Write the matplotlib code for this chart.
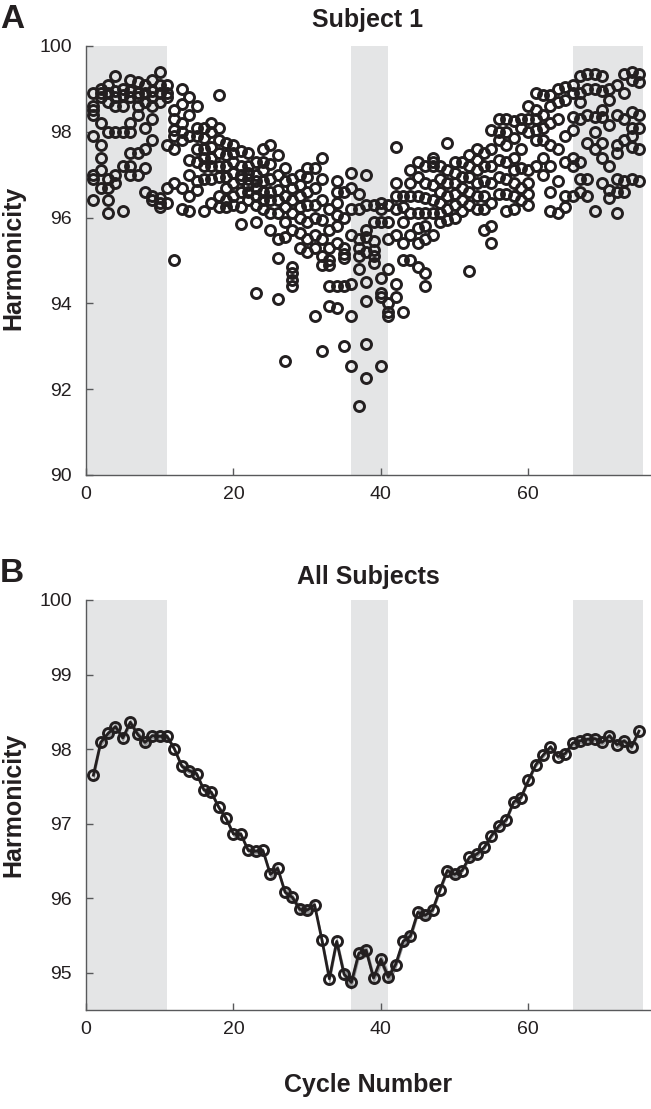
#!/usr/bin/env python3
# -*- coding: utf-8 -*-

import numpy as np
import matplotlib
matplotlib.use("Agg")
import matplotlib.pyplot as plt

plt.rcParams['font.family'] = ['Liberation Sans', 'DejaVu Sans']

############
### Data ###
############

cycles = list(range(1, 76))

# shaded blocks of cycles (start, end)
shade_blocks = [(0, 11), (36, 41), (66, 75.6)]

# Subject 1: harmonicity values per cycle (one row per cycle)
subject1 = [
    [98.9, 98.6, 98.5, 98.4, 97.9, 97.0, 96.9, 96.4],
    [99.0, 98.9, 98.8, 98.2, 97.7, 97.4, 97.1, 96.7],
    [99.1, 98.9, 98.7, 98.0, 96.9, 96.7, 96.4, 96.1],
    [99.3, 98.95, 98.8, 98.6, 98.0, 97.0, 96.8],
    [99.0, 98.85, 98.6, 98.0, 97.2, 96.15],
    [99.2, 98.95, 98.8, 98.2, 98.0, 97.5, 97.2, 97.0],
    [99.15, 98.9, 98.8, 98.6, 98.4, 97.5, 97.0],
    [99.1, 98.9, 98.7, 98.1, 97.6, 97.15, 96.6],
    [99.2, 98.95, 98.8, 98.6, 98.3, 97.8, 96.5, 96.4],
    [99.4, 99.1, 98.9, 98.7, 96.45, 96.35, 96.25],
    [99.1, 98.9, 98.8, 97.7, 96.7, 96.35],
    [98.5, 98.3, 98.05, 97.9, 97.6, 96.8, 95.0],
    [99.0, 98.65, 98.2, 98.0, 97.8, 96.7, 96.2],
    [98.8, 98.4, 97.9, 97.35, 97.0, 96.5, 96.15],
    [98.6, 98.1, 97.9, 97.6, 97.3, 96.85, 96.65],
    [98.1, 97.85, 97.6, 97.4, 97.2, 96.9, 96.15],
    [98.2, 98.0, 97.65, 97.4, 97.2, 96.9, 96.35],
    [98.85, 98.1, 97.8, 97.5, 97.2, 96.95, 96.5, 96.25],
    [97.75, 97.45, 97.2, 96.95, 96.7, 96.4, 96.25],
    [97.7, 97.5, 97.3, 97.05, 96.8, 96.5, 96.3],
    [97.55, 97.2, 97.0, 96.9, 96.6, 96.25, 95.85],
    [97.5, 97.2, 97.05, 96.9, 96.75, 96.6, 96.4],
    [97.3, 97.0, 96.85, 96.7, 96.5, 96.3, 95.9, 94.25],
    [97.6, 97.3, 97.1, 96.85, 96.6, 96.4, 96.2],
    [97.7, 97.25, 96.9, 96.6, 96.4, 96.1, 95.7],
    [97.45, 97.0, 96.65, 96.4, 96.1, 95.5, 95.05, 94.1],
    [97.15, 96.85, 96.5, 96.25, 95.9, 95.55, 92.65],
    [96.9, 96.7, 96.4, 96.1, 95.7, 94.85, 94.7, 94.55, 94.4],
    [97.0, 96.75, 96.5, 96.25, 96.0, 95.65, 95.3],
    [97.15, 96.95, 96.6, 96.3, 95.9, 95.5, 95.2],
    [97.15, 96.7, 96.3, 96.0, 95.6, 95.3, 93.7],
    [97.4, 96.9, 96.4, 95.95, 95.5, 95.1, 94.9, 92.9],
    [96.2, 95.7, 95.3, 95.0, 94.9, 94.4, 93.95],
    [96.85, 96.6, 96.35, 96.05, 95.8, 95.4, 94.4, 93.9],
    [96.6, 96.0, 95.3, 95.15, 95.05, 94.4, 93.0],
    [97.05, 96.7, 96.2, 95.6, 94.45, 93.7, 92.55],
    [96.55, 96.2, 95.5, 95.3, 95.1, 94.8, 91.6],
    [97.0, 96.3, 95.7, 95.55, 95.2, 94.5, 94.05, 93.05, 92.25],
    [96.3, 95.9, 95.45, 95.25, 95.1, 94.95],
    [96.35, 96.2, 95.9, 94.6, 94.25, 94.15, 92.55],
    [96.3, 95.9, 95.5, 94.8, 94.0, 93.8, 93.7],
    [97.65, 96.8, 96.5, 96.2, 95.6, 94.45, 94.15],
    [96.5, 96.25, 95.9, 95.4, 95.0, 93.8],
    [97.1, 96.8, 96.5, 96.1, 95.6, 95.0],
    [97.3, 96.95, 96.5, 96.1, 95.75, 95.4, 94.85],
    [97.2, 96.8, 96.45, 96.1, 95.8, 95.5, 94.7, 94.4],
    [97.4, 97.3, 97.2, 96.75, 96.4, 96.1, 95.6],
    [97.2, 96.9, 96.6, 96.35, 96.1, 95.9],
    [97.75, 97.1, 96.8, 96.5, 96.2, 95.95],
    [97.3, 97.05, 96.8, 96.55, 96.3, 96.0],
    [97.3, 96.95, 96.7, 96.4, 96.15],
    [97.45, 97.2, 96.95, 96.6, 96.3, 94.75],
    [97.6, 97.35, 97.1, 96.8, 96.5, 96.2],
    [97.5, 97.2, 96.85, 96.5, 96.2, 95.7],
    [98.05, 97.6, 97.2, 96.8, 96.35, 95.8, 95.4],
    [98.3, 98.0, 97.8, 97.35, 96.95, 96.55],
    [98.3, 98.0, 97.7, 97.3, 96.9, 96.55, 96.15],
    [98.25, 97.85, 97.4, 97.1, 96.8, 96.5, 96.2],
    [98.3, 98.1, 97.6, 97.15, 96.7, 96.4],
    [98.6, 98.3, 98.0, 97.1, 96.8, 96.55, 96.3],
    [98.9, 98.5, 98.3, 98.05, 97.8, 97.2],
    [98.85, 98.4, 98.1, 97.8, 97.4, 97.0],
    [98.85, 98.6, 98.2, 97.7, 97.2, 96.6, 96.15],
    [99.0, 98.7, 98.3, 97.6, 96.85, 96.1],
    [99.05, 98.75, 97.9, 97.3, 96.5, 96.25],
    [99.1, 98.9, 98.35, 98.05, 97.4, 97.2, 96.5],
    [99.3, 98.9, 98.7, 98.3, 97.3, 96.9, 96.6],
    [99.35, 99.0, 98.4, 97.75, 96.9, 96.5],
    [99.35, 99.0, 98.35, 98.0, 97.6, 96.15],
    [99.3, 98.95, 98.5, 98.35, 97.75, 97.4, 96.8],
    [99.0, 98.75, 98.15, 97.2, 96.65, 96.45],
    [99.1, 98.4, 97.7, 97.5, 96.9, 96.6, 96.1],
    [99.35, 98.9, 98.3, 97.8, 96.85, 96.6],
    [99.4, 99.2, 98.45, 98.1, 97.9, 97.65, 96.9],
    [99.35, 99.15, 98.4, 98.1, 97.6, 96.85],
]

# All subjects: mean harmonicity and its error band
all_mean = [
    97.65, 98.09, 98.21, 98.30, 98.15, 98.36, 98.20, 98.09, 98.18, 98.17,
    98.17, 98.00, 97.77, 97.71, 97.67, 97.45, 97.42, 97.22, 97.07, 96.86,
    96.86, 96.64, 96.63, 96.64, 96.32, 96.40, 96.08, 96.01, 95.85, 95.84,
    95.91, 95.44, 94.92, 95.42, 94.98, 94.87, 95.26, 95.30, 94.93, 95.18,
    94.94, 95.11, 95.42, 95.49, 95.81, 95.77, 95.84, 96.11, 96.37, 96.32,
    96.37, 96.55, 96.59, 96.68, 96.84, 96.97, 97.05, 97.29, 97.35, 97.58,
    97.79, 97.92, 98.03, 97.90, 97.94, 98.08, 98.11, 98.13, 98.14, 98.09,
    98.18, 98.06, 98.11, 98.03, 98.24,
]
all_sem = [
    0.10, 0.05, 0.05, 0.05, 0.05, 0.05, 0.05, 0.05, 0.04, 0.04,
    0.04, 0.04, 0.04, 0.04, 0.04, 0.04, 0.04, 0.04, 0.04, 0.04,
    0.04, 0.04, 0.04, 0.04, 0.05, 0.05, 0.05, 0.05, 0.06, 0.06,
    0.06, 0.07, 0.09, 0.08, 0.09, 0.10, 0.09, 0.09, 0.08, 0.08,
    0.08, 0.07, 0.07, 0.07, 0.06, 0.06, 0.05, 0.05, 0.05, 0.05,
    0.04, 0.04, 0.04, 0.04, 0.04, 0.04, 0.04, 0.04, 0.04, 0.04,
    0.04, 0.04, 0.04, 0.04, 0.04, 0.04, 0.04, 0.04, 0.04, 0.04,
    0.04, 0.04, 0.04, 0.04, 0.04,
]

##############
### Layout ###
##############

W, H = 651, 1109
INK = '#231f20'
AXIS = '#58595b'
SHADE = '#e4e5e6'


def style_axis(ax):
    for side in ('top', 'right'):
        ax.spines[side].set_visible(False)
    for side in ('left', 'bottom'):
        ax.spines[side].set_color(AXIS)
        ax.spines[side].set_linewidth(1.0)
    ax.tick_params(direction='in', length=5, width=1, color=AXIS,
                   labelsize=14, labelcolor=INK)
    ax.tick_params(axis='y', pad=10)
    ax.tick_params(axis='x', pad=8)
    ax.set_xlim(0, 76.5)
    ax.set_xticks([0, 20, 40, 60])
    for a, b in shade_blocks:
        ax.axvspan(a, b, color=SHADE, lw=0, zorder=0)


fig = plt.figure(figsize=(W / 100, H / 100), dpi=100)

ax_a = fig.add_axes([86 / W, 1 - 475 / H, 564 / W, 429 / H])
ax_b = fig.add_axes([86 / W, 1 - 1010 / H, 564 / W, 410 / H])

# Panel A: subject 1 scatter
xs = [c for c, vals in zip(cycles, subject1) for _ in vals]
ys = [v for vals in subject1 for v in vals]
ax_a.plot(xs, ys, 'o', ls='none', mfc='none', mec=INK, ms=7.2, mew=2.1,
          zorder=3)
style_axis(ax_a)
ax_a.set_ylim(90, 100)
ax_a.set_yticks([90, 92, 94, 96, 98, 100])

# Panel B: all subjects mean with error band
mean = np.array(all_mean)
sem = np.array(all_sem)
ax_b.fill_between(cycles, mean - sem, mean + sem, color='#9a9b9d', lw=0,
                  zorder=2)
ax_b.plot(cycles, mean, '-o', color=INK, lw=2, mfc='none', mec=INK,
          ms=7.2, mew=2.1, zorder=3)
style_axis(ax_b)
ax_b.set_ylim(94.5, 100)
ax_b.set_yticks([95, 96, 97, 98, 99, 100])

# Text
cx = (86 + 650) / 2 / W
fig.text(0.0, 1 - 4 / H, 'A', fontsize=24, fontweight='bold', color=INK,
         ha='left', va='top')
fig.text(0.0, 1 - 558 / H, 'B', fontsize=24, fontweight='bold', color=INK,
         ha='left', va='top')
fig.text(cx, 1 - 20 / H, 'Subject 1', fontsize=18, fontweight='bold',
         color=INK, ha='center', va='center')
fig.text(cx, 1 - 577 / H, 'All Subjects', fontsize=18, fontweight='bold',
         color=INK, ha='center', va='center')
fig.text(13 / W, 1 - 258 / H, 'Harmonicity', fontsize=18, fontweight='bold',
         color=INK, ha='center', va='center', rotation=90)
fig.text(13 / W, 1 - 805 / H, 'Harmonicity', fontsize=18, fontweight='bold',
         color=INK, ha='center', va='center', rotation=90)
fig.text(cx, 1 - 1085 / H, 'Cycle Number', fontsize=18, fontweight='bold',
         color=INK, ha='center', va='center')

fig.savefig('out.png', dpi=100)
